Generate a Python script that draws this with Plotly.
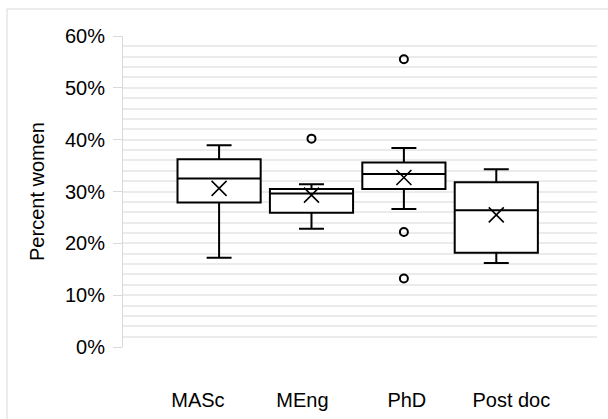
import plotly.graph_objects as go

categories = ["MASc", "MEng", "PhD", "Post doc"]
q1 = [0.279, 0.259, 0.305, 0.182]
median = [0.325, 0.296, 0.334, 0.264]
q3 = [0.362, 0.305, 0.356, 0.318]
lower_whisker = [0.172, 0.228, 0.266, 0.162]
upper_whisker = [0.389, 0.314, 0.384, 0.343]
means = [0.306, 0.293, 0.327, 0.255]
outlier_cats = ["MEng", "PhD", "PhD", "PhD"]
outlier_vals = [0.402, 0.555, 0.222, 0.132]
y_ticks = [0, 0.1, 0.2, 0.3, 0.4, 0.5, 0.6]

FONT = "Liberation Sans, Arial, sans-serif"
W, H = 608, 419
L, R, T, B = 123, 11, 36, 72
pw, ph = W - L - R, H - T - B

fig = go.Figure()
fig.add_trace(go.Box(
    x=categories, q1=q1, median=median, q3=q3,
    lowerfence=lower_whisker, upperfence=upper_whisker,
    width=0.9, whiskerwidth=0.3, fillcolor="white",
    line=dict(color="black", width=2), boxpoints=False,
    showlegend=False, hoverinfo="skip",
))
fig.add_trace(go.Scatter(
    x=outlier_cats, y=outlier_vals, mode="markers",
    marker=dict(symbol="circle-open", size=8, color="black", line=dict(width=2, color="black")),
    showlegend=False, hoverinfo="skip",
))
fig.add_trace(go.Scatter(
    x=categories, y=means, mode="markers",
    marker=dict(symbol="x-thin-open", size=15, color="black", line=dict(width=1.6, color="black")),
    showlegend=False, hoverinfo="skip",
))

grid_col = "#ebebeb"
fig.update_layout(
    width=W, height=H,
    margin=dict(l=L, r=R, t=T, b=B, autoexpand=False),
    paper_bgcolor="white", plot_bgcolor="white",
    font=dict(family=FONT, size=20, color="black"),
    xaxis=dict(
        type="category", range=[-1.04, 4.09],
        showticklabels=False, showgrid=False, zeroline=False, showline=False, ticks="",
    ),
    xaxis2=dict(
        overlaying="x", side="bottom", type="linear", range=[-0.717, 3.82],
        tickmode="array", tickvals=list(range(len(categories))), ticktext=categories,
        showgrid=False, zeroline=False, showline=False, ticks="",
        ticklabelstandoff=39, tickfont=dict(family=FONT, size=20, color="black"),
    ),
    yaxis=dict(
        range=[0, 0.6], tickmode="array", tickvals=y_ticks, tickformat=".0%",
        showgrid=True, gridcolor=grid_col, gridwidth=2,
        minor=dict(dtick=0.02, showgrid=True, gridcolor=grid_col, gridwidth=2, ticks=""),
        zeroline=False, showline=True, linecolor="#d9d9d9", linewidth=1,
        ticks="outside", ticklen=9, tickcolor="#d9d9d9", tickwidth=1,
        ticklabelstandoff=4,
        tickfont=dict(family=FONT, size=20, color="black"),
        title=dict(text="Percent women", standoff=14, font=dict(family=FONT, size=20, color="black")),
        automargin=False,
    ),
    shapes=[dict(
        type="rect", xref="paper", yref="paper",
        x0=(7 - L) / pw, x1=(W + 3 - L) / pw,
        y0=-(H + 5 - (T + ph)) / ph, y1=(T + ph - 9) / ph,
        line=dict(color="#d9d9d9", width=1), fillcolor="rgba(0,0,0,0)", layer="below",
    )],
)
# invisible trace so the label axis (xaxis2) is drawn
fig.add_trace(go.Scatter(x=[0], y=[0], xaxis="x2", mode="markers",
                         marker=dict(opacity=0), showlegend=False, hoverinfo="skip"))

fig.write_html("out.html")
